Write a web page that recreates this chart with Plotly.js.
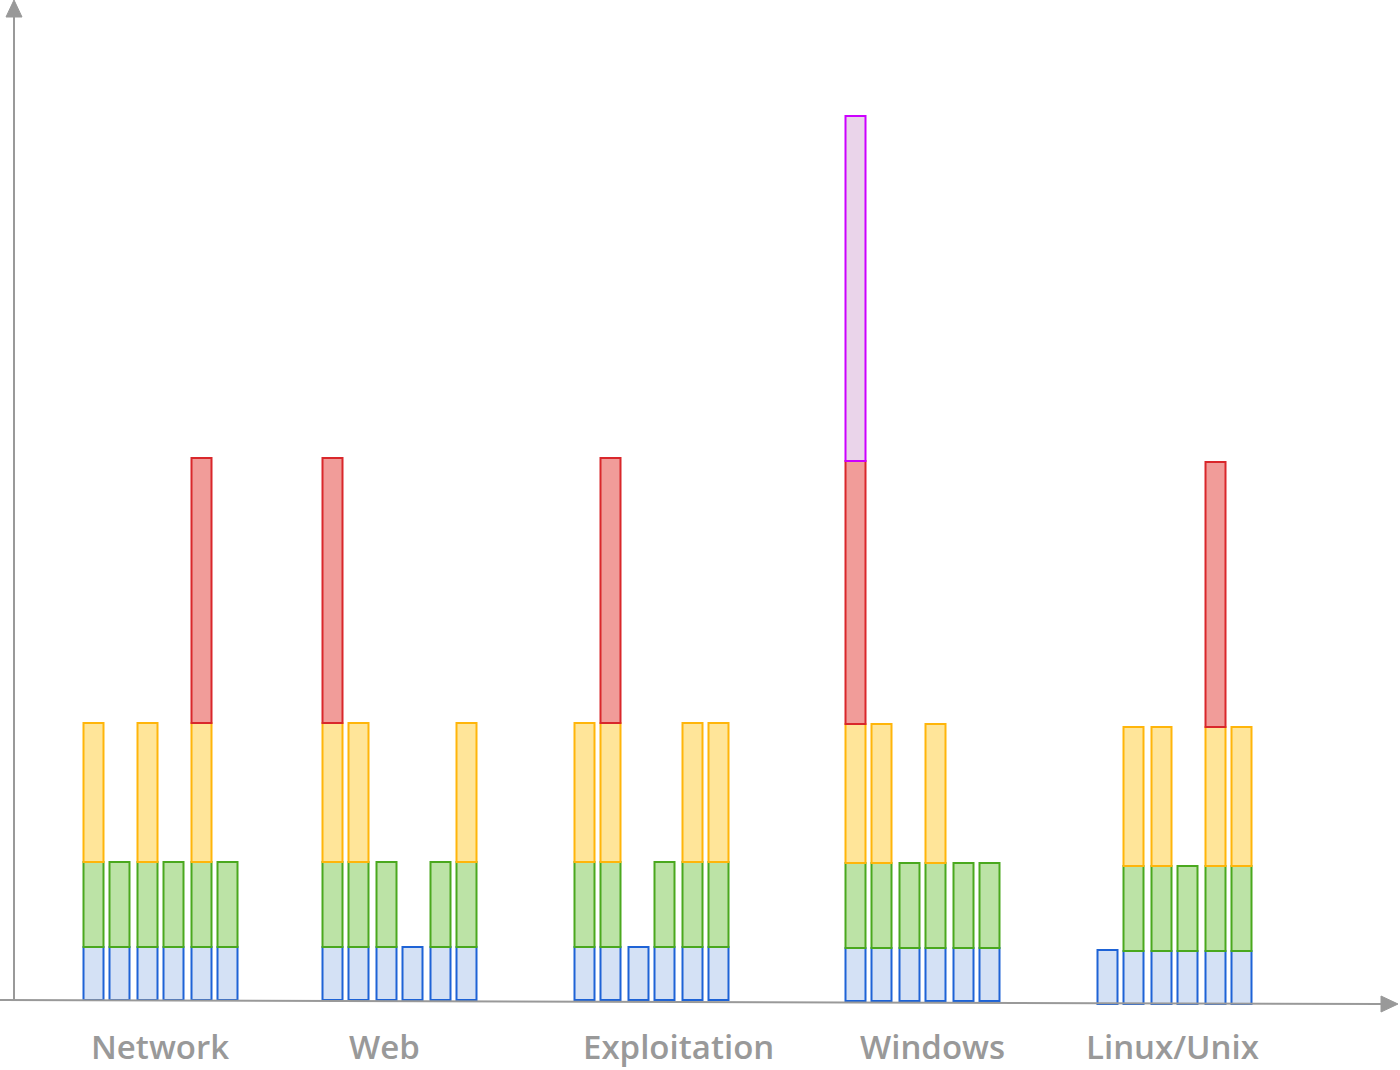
<!DOCTYPE html>
<html>
<head>
<meta charset="utf-8">
<script src="https://cdn.plot.ly/plotly-3.0.1.min.js"></script>
<style>html,body{margin:0;padding:0;background:#fff;}#chart{width:1400px;height:1070px;}</style>
</head>
<body>
<div id="chart"></div>
<script>
// ---- data ----
const categories = ["Network", "Web", "Exploitation", "Windows", "Linux/Unix"];
// segment heights per bar (6 bars per category), null = segment absent
const blueSeg = [
  53, 53, 53, 53, 53, 53,
  53, 53, 53, 53, 53, 53,
  53, 53, 53, 53, 53, 53,
  53, 53, 53, 53, 53, 53,
  54, 53, 53, 53, 53, 53
];
const greenSeg = [
  85, 85, 85, 85, 85, 85,
  85, 85, 85, null, 85, 85,
  85, 85, null, 85, 85, 85,
  85, 85, 85, 85, 85, 85,
  null, 85, 85, 85, 85, 85
];
const yellowSeg = [
  139, null, 139, null, 139, null,
  139, 139, null, null, null, 139,
  139, 139, null, null, 139, 139,
  139, 139, null, 139, null, null,
  null, 139, 139, null, 139, 139
];
const redSeg = [
  null, null, null, null, 265, null,
  265, null, null, null, null, null,
  null, 265, null, null, null, null,
  263, null, null, null, null, null,
  null, null, null, null, 265, null
];
const purpleSeg = [
  null, null, null, null, null, null,
  null, null, null, null, null, null,
  null, null, null, null, null, null,
  345, null, null, null, null, null,
  null, null, null, null, null, null
];

// ---- layout helpers (positions / styles) ----
const groupLeft = [83, 322, 574, 845, 1097];
const barOffset = [0, 26, 54, 80, 108, 134];
const groupShift = [0, 0, 0, -1, -4];
const labelX = [160, 384, 678, 932, 1172];
const barsPerGroup = 6;

const xs = [], shifts = [];
categories.forEach((c, g) => {
  for (let i = 0; i < barsPerGroup; i++) {
    xs.push(groupLeft[g] + barOffset[i] + 10.5);
    shifts.push(groupShift[g]);
  }
});

const series = [
  {name: "blue", vals: blueSeg, fill: "#d4e1f5", line: "#1e63d6"},
  {name: "green", vals: greenSeg, fill: "#bce3a6", line: "#4aa81e"},
  {name: "yellow", vals: yellowSeg, fill: "#ffe599", line: "#ffb50a"},
  {name: "red", vals: redSeg, fill: "#f19c99", line: "#d9272b"},
  {name: "purple", vals: purpleSeg, fill: "#ead4ea", line: "#cc00ff"}
];

const cum = shifts.slice();
const traces = series.map(s => {
  const base = cum.slice();
  s.vals.forEach((v, i) => { if (v != null) cum[i] += v; });
  return {
    type: "bar", x: xs, y: s.vals, base: base, width: 20, name: s.name,
    marker: {color: s.fill, line: {color: s.line, width: 2}},
    hoverinfo: "skip", showlegend: false
  };
});

const axisColor = "#999999";
const annotations = categories.map((c, g) => ({
  x: labelX[g], y: -46, xref: "x", yref: "y", text: c, showarrow: false,
  font: {family: "Open Sans", size: 33, color: "#999999", weight: 600},
  xanchor: "center", yanchor: "middle"
}));

const shapes = [
  {type: "line", x0: 14, y0: -1, x1: 14, y1: 985, line: {color: axisColor, width: 2}},
  {type: "path", path: "M 14 1000 L 6 983 L 22 983 Z", fillcolor: axisColor, line: {color: axisColor, width: 1}},
  {type: "line", x0: 0, y0: 0, x1: 1382, y1: -4, line: {color: axisColor, width: 2}},
  {type: "path", path: "M 1398 -4 L 1381 4 L 1381 -12 Z", fillcolor: axisColor, line: {color: axisColor, width: 1}}
];

const layout = {
  width: 1400, height: 1070,
  margin: {l: 0, r: 0, t: 0, b: 0},
  paper_bgcolor: "#ffffff", plot_bgcolor: "#ffffff",
  barmode: "overlay",
  xaxis: {range: [0, 1400], visible: false, fixedrange: true},
  yaxis: {range: [-70, 1000], visible: false, fixedrange: true},
  annotations: annotations,
  shapes: shapes
};

Plotly.newPlot("chart", traces, layout, {staticPlot: true, displayModeBar: false});
</script>
</body>
</html>
